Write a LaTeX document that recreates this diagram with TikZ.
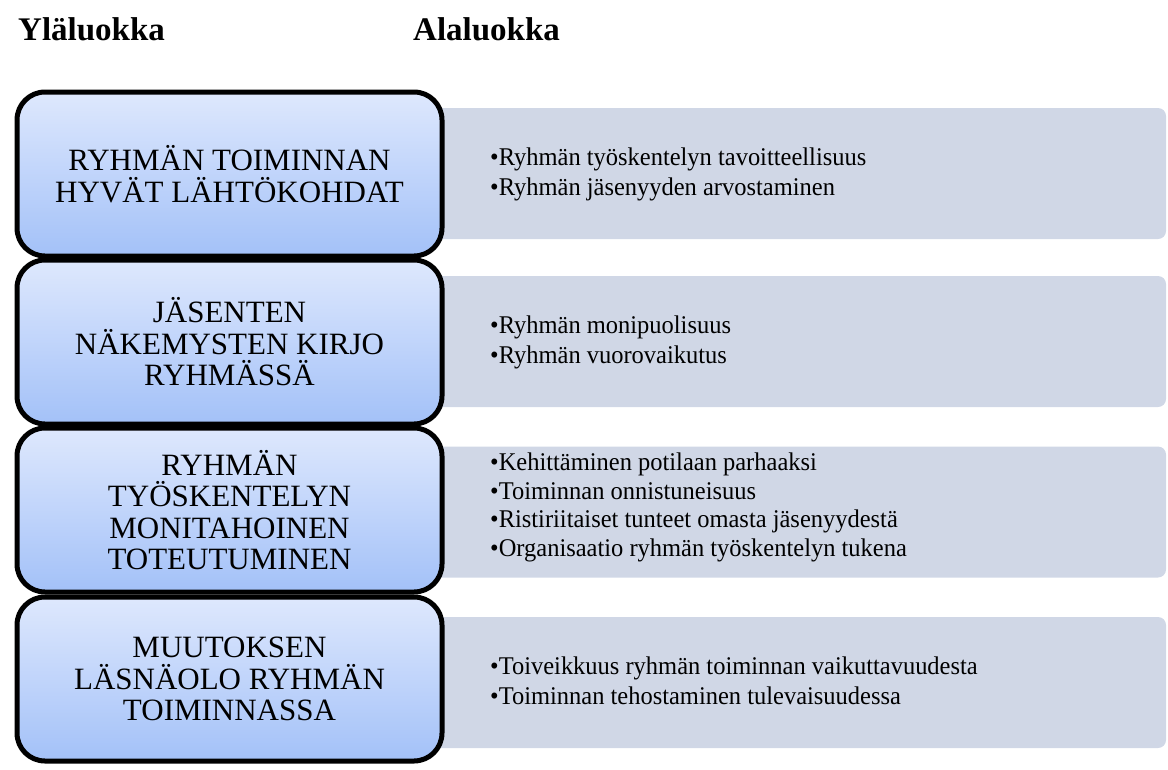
\documentclass[tikz,border=0pt]{standalone}
\usepackage{fontspec}
\setmainfont{Liberation Serif}
\newfontfamily\graytxt[FakeStretch=0.96]{Liberation Serif}
\newfontfamily\boxtxt{Liberation Serif}
\definecolor{blueTop}{HTML}{DEE8FD}
\definecolor{blueBot}{HTML}{A3C1F8}
\definecolor{grayFill}{HTML}{D0D7E6}
\begin{document}
\begin{tikzpicture}[x=1pt,y=-1pt,
  bluebox/.style={draw=black, line width=5pt, rounded corners=28pt, top color=blueTop, bottom color=blueBot,
    minimum width=425pt, minimum height=164pt, inner sep=0pt, align=center,
    font=\boxtxt\fontsize{31}{31.5}\selectfont},
  graybox/.style={fill=grayFill, rounded corners=8pt, minimum width=746pt, minimum height=131pt, inner sep=0pt},
  items/.style={anchor=base west, align=left, inner sep=0pt, font=\graytxt\fontsize{25.5}{30}\selectfont},
  title/.style={anchor=base west, inner sep=0pt, font=\boxtxt\fontsize{33}{33}\selectfont\bfseries}]
\useasboundingbox (0,0) rectangle (1168,769);
\node[title] (t1) at (18,40) {Yläluokka};
\node[title] (t2) at (413,40) {Alaluokka};
% gray boxes
\node[graybox] (g1) at (793,173.5) {};
\node[graybox] (g2) at (793,341.5) {};
\node[graybox] (g3) at (793,512) {};
\node[graybox] (g4) at (793,682.5) {};
% blue boxes
\node[bluebox] (b1) at (229.5,174) {RYHMÄN TOIMINNAN\\HYVÄT LÄHTÖKOHDAT};
\node[bluebox] (b2) at (229.5,342) {JÄSENTEN\\NÄKEMYSTEN KIRJO\\RYHMÄSSÄ};
\node[bluebox] (b3) at (229.5,510) {RYHMÄN\\TYÖSKENTELYN\\MONITAHOINEN\\TOTEUTUMINEN};
\node[bluebox] (b4) at (229.5,679) {MUUTOKSEN\\LÄSNÄOLO RYHMÄN\\TOIMINNASSA};
% items (anchor = baseline of last line)
\node[items] (i1) at (490,195) {•Ryhmän työskentelyn tavoitteellisuus\\•Ryhmän jäsenyyden arvostaminen};
\node[items] (i2) at (490,363) {•Ryhmän monipuolisuus\\•Ryhmän vuorovaikutus};
\node[items, font=\graytxt\fontsize{25.5}{28.4}\selectfont] (i3) at (490,556) {•Kehittäminen potilaan parhaaksi\\•Toiminnan onnistuneisuus\\•Ristiriitaiset tunteet omasta jäsenyydestä\\•Organisaatio ryhmän työskentelyn tukena};
\node[items] (i4) at (490,704) {•Toiveikkuus ryhmän toiminnan vaikuttavuudesta\\•Toiminnan tehostaminen tulevaisuudessa};
\end{tikzpicture}
\end{document}
